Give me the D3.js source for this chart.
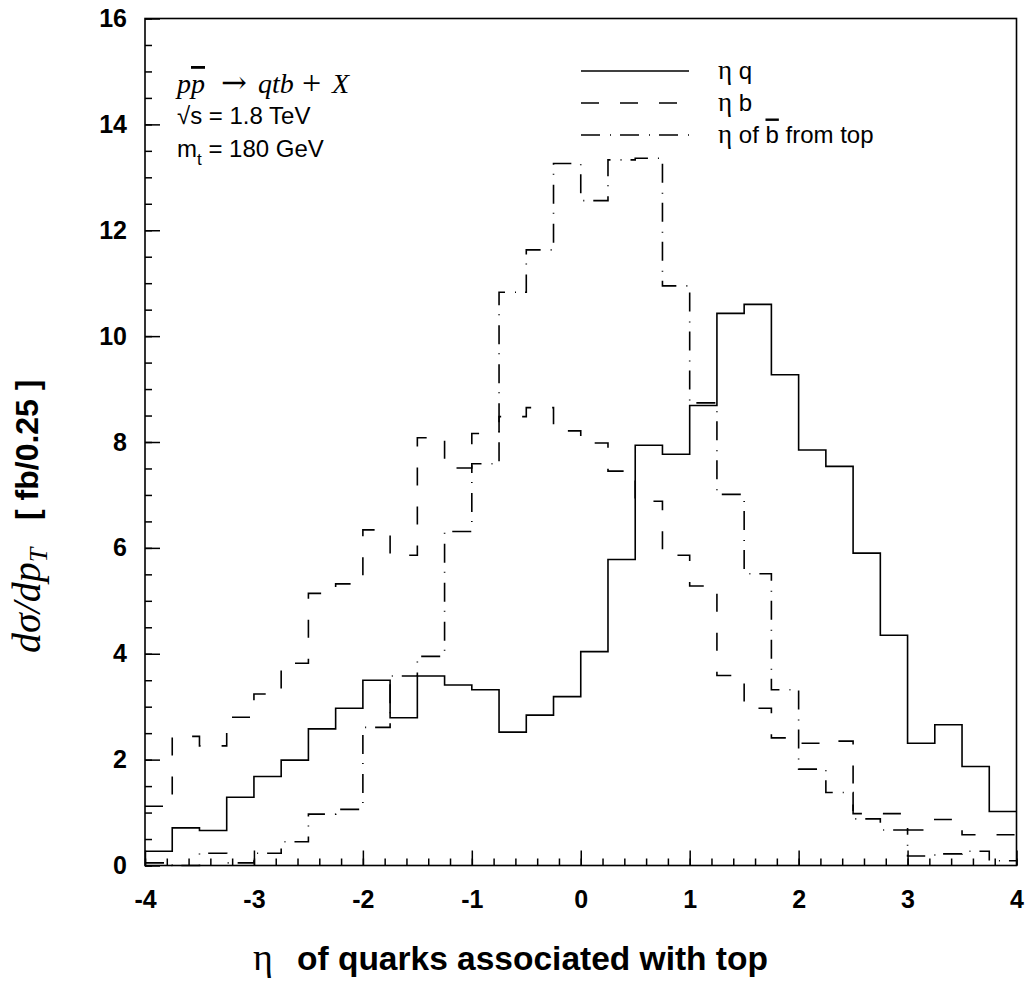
<!DOCTYPE html>
<html>
<head>
<meta charset="utf-8">
<script src="https://cdn.jsdelivr.net/npm/d3@7"></script>
<style>
  body { margin: 0; background: #fff; }
  svg { display: block; }
  .tick text { font-family: "Liberation Sans", Arial, sans-serif; font-weight: bold; font-size: 25px; fill: #000; }
  .tick line { stroke: #000; stroke-width: 1.5; }
</style>
</head>
<body>
<script>
// bin edges (width 0.25 in eta)
var etaEdges = [-4, -3.75, -3.5, -3.25, -3, -2.75, -2.5, -2.25, -2, -1.75, -1.5, -1.25,
                -1, -0.75, -0.5, -0.25, 0, 0.25, 0.5, 0.75, 1, 1.25, 1.5, 1.75,
                2, 2.25, 2.5, 2.75, 3, 3.25, 3.5, 3.75, 4];

// values, one per bin
var etaQ = [0.27, 0.71, 0.66, 1.29, 1.68, 1.99, 2.58, 2.97, 3.50, 2.79, 3.58, 3.41,
            3.32, 2.52, 2.84, 3.19, 4.04, 5.78, 7.94, 7.77, 8.69, 10.43, 10.60, 9.27,
            7.85, 7.54, 5.90, 4.35, 2.31, 2.66, 1.87, 1.02];
var etaB = [1.12, 2.44, 2.26, 2.80, 3.24, 3.82, 5.14, 5.32, 6.34, 5.86, 8.08, 7.51,
            8.16, 8.48, 8.65, 8.21, 7.98, 7.45, 6.88, 5.86, 5.28, 3.59, 2.97, 2.41,
            2.31, 2.35, 0.98, 0.98, 0.67, 0.87, 0.58, 0.58];
var etaBbarTop = [0.05, 0.0, 0.23, 0.05, 0.23, 0.45, 0.97, 1.06, 2.61, 3.58, 3.95, 6.31,
                  7.59, 10.83, 11.63, 13.26, 12.56, 13.33, 13.36, 10.95, 8.74, 7.01, 5.51, 3.32,
                  1.82, 1.38, 0.88, 0.67, 0.18, 0.22, 0.27, 0.09];

var xMajorTicks = [-4, -3, -2, -1, 0, 1, 2, 3, 4];
var yMajorTicks = [0, 2, 4, 6, 8, 10, 12, 14, 16];

var series = [
  {name: 'q', values: etaQ, dash: null},
  {name: 'b', values: etaB, dash: '18,21'},
  {name: 'bbar', values: etaBbarTop, dash: '19,10,1,9'}
];

//setup graph size
var W = 1027, H = 982;
var margin = {top: 18.5, left: 145, right: 10.5, bottom: 116.5};
var width = W - margin.left - margin.right,
    height = H - margin.top - margin.bottom;

var xScale = d3.scaleLinear().domain([-4, 4]).range([0, width]);
var yScale = d3.scaleLinear().domain([0, 16]).range([height, 0]);

var svg = d3.select('body').append('svg')
    .attr('width', W)
    .attr('height', H);

var g = svg.append('g')
    .attr('transform', 'translate(' + margin.left + ',' + margin.top + ')');

//plain hyphen for negatives, like the original
var fmt = function(d) { return String(d); };

//minor ticks first
g.append('g')
    .attr('transform', 'translate(0,' + height + ')')
    .call(d3.axisBottom(xScale).tickValues(d3.range(-4, 4.001, 0.2)).tickSize(-7).tickFormat(''))
    .call(function(s) { s.select('.domain').remove(); });
g.append('g')
    .call(d3.axisLeft(yScale).tickValues(d3.range(0, 16.001, 0.5)).tickSize(-7).tickFormat(''))
    .call(function(s) { s.select('.domain').remove(); });

//major ticks with labels
g.append('g')
    .attr('transform', 'translate(0,' + height + ')')
    .call(d3.axisBottom(xScale).tickValues(xMajorTicks).tickSize(-15).tickPadding(25).tickFormat(fmt))
    .call(function(s) { s.select('.domain').remove(); });
g.append('g')
    .call(d3.axisLeft(yScale).tickValues(yMajorTicks).tickSize(-15).tickPadding(18).tickFormat(fmt))
    .call(function(s) { s.select('.domain').remove(); });

//frame
g.append('rect')
    .attr('width', width)
    .attr('height', height)
    .attr('fill', 'none')
    .attr('stroke', '#000')
    .attr('stroke-width', 1.6);

//histograms as steps
var line = d3.line()
    .x(function(d) { return xScale(d[0]); })
    .y(function(d) { return yScale(d[1]); });

series.forEach(function(s) {
    var pts = [];
    s.values.forEach(function(v, i) {
        pts.push([etaEdges[i], v]);
        pts.push([etaEdges[i + 1], v]);
    });
    g.append('path')
        .datum(pts)
        .attr('d', line)
        .attr('fill', 'none')
        .attr('stroke', '#000')
        .attr('stroke-width', 1.6)
        .attr('stroke-dasharray', s.dash);
});

//legend
var legendY = [71, 103, 135];
var legend = svg.append('g');
series.forEach(function(s, i) {
    legend.append('line')
        .attr('x1', 581).attr('x2', 689)
        .attr('y1', legendY[i]).attr('y2', legendY[i])
        .attr('stroke', '#000')
        .attr('stroke-width', 1.6)
        .attr('stroke-dasharray', s.dash);
});
var sans = '"Liberation Sans", Arial, sans-serif',
    serif = '"Liberation Serif", "Times New Roman", serif';

function legendLabel(i) {
    var t = legend.append('text')
        .attr('x', 718).attr('y', legendY[i] + 7.5)
        .attr('font-family', sans).attr('font-size', 24)
        .style('white-space', 'pre');
    t.append('tspan').attr('font-family', serif).attr('font-size', 27).text('η');
    return t;
}
legendLabel(0).append('tspan').text(' q');
legendLabel(1).append('tspan').text(' b');
var l3 = legendLabel(2);
l3.append('tspan').text(' of ');
l3.append('tspan').style('text-decoration', 'overline').text('b');
l3.append('tspan').text(' from top');

//process text
var proc = svg.append('text')
    .attr('x', 177).attr('y', 93)
    .attr('font-family', serif).attr('font-style', 'italic').attr('font-size', 28);
proc.append('tspan').text('p');
proc.append('tspan').style('text-decoration', 'overline').text('p');
proc.append('tspan').attr('x', 221).attr('font-family', '"DejaVu Sans ExtraLight", "DejaVu Serif", serif')
    .attr('font-style', 'normal').attr('font-weight', 200).attr('font-size', 31).text('\u2192');
proc.append('tspan').attr('x', 258).text('qtb');
proc.append('tspan').attr('x', 302).attr('font-style', 'normal').attr('font-size', 34).attr('dy', 1).text('+');
proc.append('tspan').attr('x', 332).attr('dy', -1).text('X');

svg.append('text')
    .attr('x', 177).attr('y', 124)
    .attr('font-family', sans).attr('font-size', 24)
    .text('\u221As = 1.8 TeV');

var mt = svg.append('text')
    .attr('x', 177).attr('y', 157)
    .attr('font-family', sans).attr('font-size', 24);
mt.append('tspan').text('m');
mt.append('tspan').attr('font-size', 17).attr('dy', 8).text('t');
mt.append('tspan').attr('dy', -8).text(' = 180 GeV');

//x axis title
var xt = svg.append('text')
    .attr('x', 253).attr('y', 970)
    .style('white-space', 'pre');
xt.append('tspan').attr('font-family', serif).attr('font-size', 38).text('η');
xt.append('tspan').attr('x', 297).attr('font-family', sans).attr('font-weight', 'bold')
    .attr('font-size', 33.5).text('of quarks associated with top');

//y axis title
var yt = svg.append('text')
    .attr('transform', 'translate(40,653) rotate(-90)')
    .attr('font-family', serif).attr('font-style', 'italic').attr('font-size', 40);
yt.append('tspan').text('d\u03C3/dp');
yt.append('tspan').attr('font-size', 26).attr('dy', 7).text('T');

svg.append('text')
    .attr('transform', 'translate(38,520) rotate(-90)')
    .attr('font-family', sans).attr('font-weight', 'bold').attr('font-size', 32)
    .style('white-space', 'pre')
    .text('[ fb/0.25 ]');
</script>
</body>
</html>
